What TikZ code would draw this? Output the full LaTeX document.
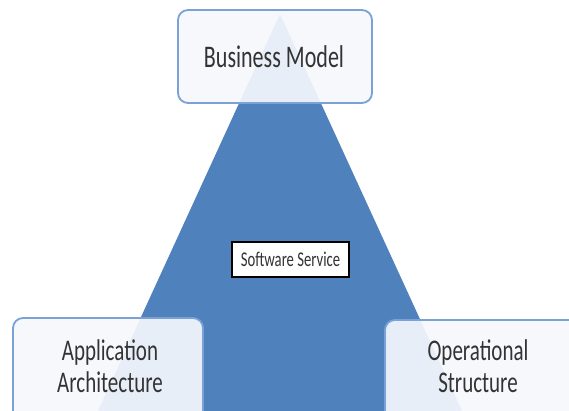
\documentclass[tikz,border=0pt]{standalone}
\usepackage{fontspec}
\newfontfamily\cfont[FakeStretch=0.7]{Carlito}
\begin{document}
\begin{tikzpicture}[x=1pt,y=-1pt,
  pillar/.style={draw=boxline, line width=1.8pt, rounded corners=10pt,
    fill=boxfill, fill opacity=0.92, text opacity=1, inner sep=0pt},
  bigtext/.style={font=\cfont\fontsize{30}{32}\selectfont, text=txtgray, align=center, inner sep=0pt},
  centerbox/.style={draw=black, line width=1.5pt, fill=white, minimum width=117pt, minimum height=35pt,
    font=\cfont\fontsize{21}{24}\selectfont, text=txtgray, inner sep=0pt}]
\definecolor{tri}{HTML}{4F81BD}
\definecolor{boxline}{HTML}{7BA2D6}
\definecolor{boxfill}{HTML}{F6F8FC}
\definecolor{txtgray}{HTML}{333333}
\useasboundingbox (0,0) rectangle (569,410);
\clip (0,0) rectangle (569,410);
\fill[white] (0,0) rectangle (569,410);
% triangle
\fill[tri] (280,14) -- (80,450) -- (480,450) -- cycle;
% boxes
\node[pillar, minimum width=194pt, minimum height=93pt] (bm) at (275,56.5) {};
\node[bigtext, font=\cfont\fontsize{31.5}{34}\selectfont] (bmtext) at (274,57) {Business Model};
\node[pillar, minimum width=190pt, minimum height=120pt] (app) at (108,378) {};
\node[bigtext] (apptext) at (110,366) {Application\\Architecture};
\node[pillar, minimum width=200pt, minimum height=120pt] (ops) at (485,380) {};
\node[bigtext] (opstext) at (478,366) {Operational\\Structure};
% center
\node[centerbox] (ss) at (290.5,259.5) {Software Service};
\end{tikzpicture}
\end{document}
